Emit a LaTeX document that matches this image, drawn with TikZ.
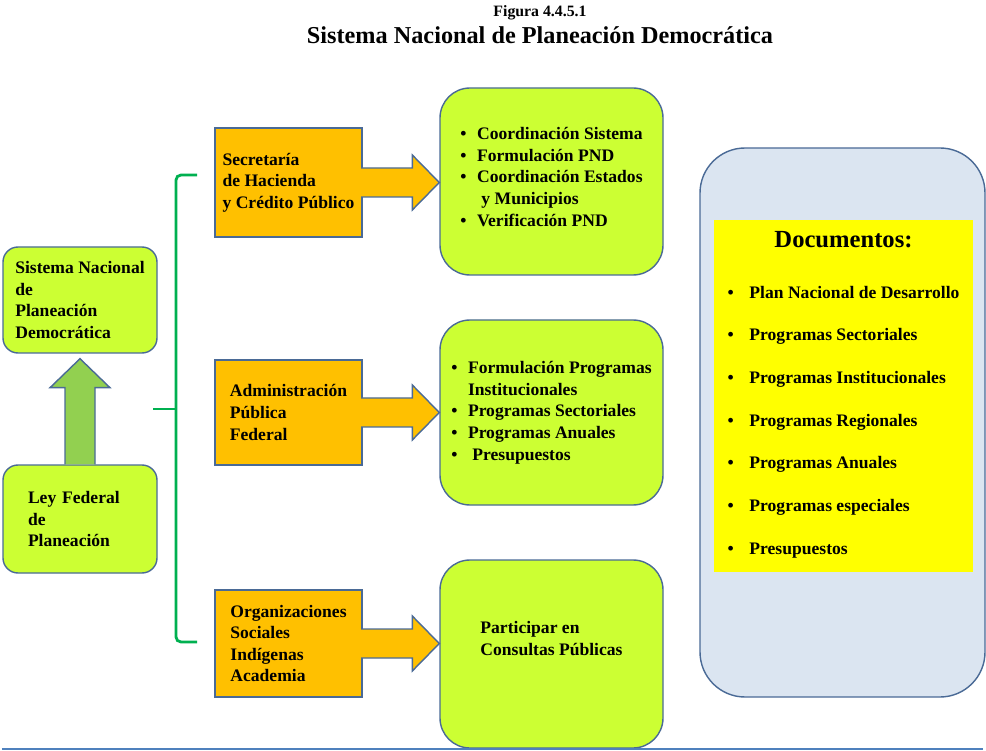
\documentclass[tikz,border=0pt]{standalone}
\usepackage{fontspec}
\setmainfont{Liberation Serif}
\usepackage{xcolor}
\usepackage{tikz}
\usetikzlibrary{positioning,calc}
\definecolor{limeg}{HTML}{CCFF33}
\definecolor{orng}{HTML}{FFC000}
\definecolor{leaf}{HTML}{92D050}
\definecolor{brace}{HTML}{00B050}
\definecolor{slate}{HTML}{4A6A96}
\definecolor{mist}{HTML}{DBE5F1}
\definecolor{lemon}{HTML}{FFFF00}
\definecolor{rulebl}{HTML}{4F81BD}

\begin{document}
\begin{tikzpicture}[
  every node/.style={font=\bfseries\fontsize{10}{12.3}\selectfont},
  gbox/.style={rounded corners=3mm,fill=limeg,draw=slate,thick,minimum width=3.08cm,align=left},
  obox/.style={fill=orng,draw=slate,thick,minimum width=2.94cm,align=left},
  abox/.style={rounded corners=6mm,fill=limeg,draw=slate,thick,minimum width=4.46cm},
  blk/.style={draw=slate,thick,line join=miter},
  brk/.style={draw=brace,line width=1.6pt,rounded corners=1mm}]
  \useasboundingbox (0,0) rectangle (19.72,-15.02);
  \node[font=\bfseries\fontsize{9}{11}\selectfont] (fig) at (10.8,-0.26) {Figura 4.4.5.1};
  \node[font=\bfseries\fontsize{13.8}{16}\selectfont] (ttl) at (10.8,-0.70) {Sistema Nacional de Planeación Democrática};
  \node[gbox,minimum height=2.12cm] (sis) at (1.6,-6.0) {Sistema Nacional\\de\\Planeación\\Democrática};
  \node[gbox,minimum height=2.16cm,text width=2.08cm] (ley) at (1.6,-10.38) {Ley Federal\\de\\Planeación};
  \node[obox,minimum height=2.18cm] (hac) at (5.77,-3.65) {Secretaría\\de Hacienda\\y Crédito Público};
  \node[obox,minimum height=2.1cm] (apf) at (5.77,-8.25) {Administración\\Pública\\Federal};
  \node[obox,minimum height=2.14cm] (org) at (5.77,-12.87) {Organizaciones\\Sociales\\Indígenas\\Academia};
  \node[abox,minimum height=3.74cm] (act1) at (11.03,-3.63) {\begin{tabular}{@{}l@{\hspace{6pt}}l@{}}
    \textbullet & Coordinación Sistema\\
    \textbullet & Formulación PND\\
    \textbullet & Coordinación Estados\\
                & \ y Municipios\\
    \textbullet & Verificación PND\\[0.12cm]
  \end{tabular}};
  \node[abox,minimum height=3.7cm] (act2) at (11.03,-8.25) {\begin{tabular}{@{}l@{\hspace{6pt}}l@{}}
    \textbullet & Formulación Programas\\
                & Institucionales\\
    \textbullet & Programas Sectoriales\\
    \textbullet & Programas Anuales\\
    \textbullet & \ Presupuestos
  \end{tabular}};
  \node[abox,minimum height=3.76cm] (act3) at (11.03,-13.08) {\begin{tabular}{@{}l@{}}
    Participar en\\
    Consultas Públicas\\[0.56cm]
  \end{tabular}};
  \node[rounded corners=9mm,fill=mist,draw=slate,thick,minimum width=5.7cm,minimum height=10.98cm] (panel) at (16.85,-8.45) {};
  \node[fill=lemon,minimum width=5.18cm,minimum height=7.04cm,align=center] (docs) at (16.87,-7.92) {{\fontsize{14}{17}\selectfont Documentos:}\\[19pt]
  \begin{tabular}{@{}l@{\hspace{9pt}}l@{}}
    \textbullet & Plan Nacional de Desarrollo\\[12pt]
    \textbullet & Programas Sectoriales\\[12pt]
    \textbullet & Programas Institucionales\\[12pt]
    \textbullet & Programas Regionales\\[12pt]
    \textbullet & Programas Anuales\\[12pt]
    \textbullet & Programas especiales\\[12pt]
    \textbullet & Presupuestos
  \end{tabular}};
  \coordinate (bt) at (3.94,-3.5);
  \coordinate (bb) at (3.94,-12.84);
  \coordinate (bm) at (3.06,-8.18);
  \draw[brk] (bt) -- (3.52,-3.5) -- (3.52,-12.84) -- (bb);
  \draw[brk] (bm) -- (3.52,-8.18);
  \coordinate (up) at ($(sis.south)+(0,-0.1)$);
  \filldraw[blk,fill=leaf] ($(ley.north)+(-0.3,0)$) -- ($(up)+(-0.3,-0.58)$) -- ($(up)+(-0.6,-0.58)$) -- (up) -- ($(up)+(0.6,-0.58)$) -- ($(up)+(0.3,-0.58)$) -- ($(ley.north)+(0.3,0)$);
  \foreach \a/\b in {hac/act1,apf/act2,org/act3}{
    \coordinate (tip) at (\b.west|-\a.east);
    \filldraw[blk,fill=orng] ($(\a.east)+(-0.03,0.29)$) -- ($(tip)+(-0.54,0.29)$) -- ($(tip)+(-0.54,0.55)$) -- (tip) -- ($(tip)+(-0.54,-0.55)$) -- ($(tip)+(-0.54,-0.29)$) -- ($(\a.east)+(-0.03,-0.29)$);
  }
  \draw[rulebl,line width=1.2pt] (0.04,-14.98) -- (19.66,-14.98);
\end{tikzpicture}
\end{document}
